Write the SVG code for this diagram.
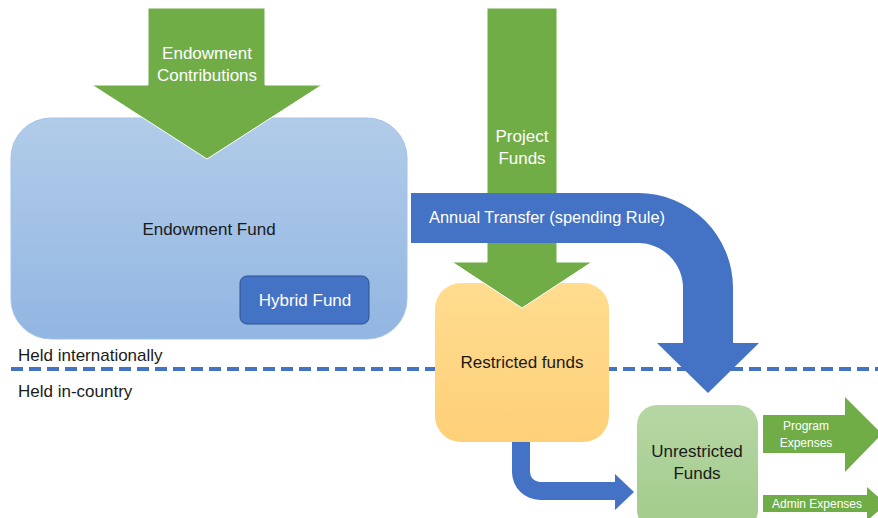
<svg xmlns="http://www.w3.org/2000/svg" width="878" height="518" viewBox="0 0 878 518">
<defs>
<linearGradient id="gBlue" x1="0" y1="0" x2="0" y2="1"><stop offset="0" stop-color="#b1cce9"/><stop offset="1" stop-color="#92b6e2"/></linearGradient>
<linearGradient id="gYel" x1="0" y1="0" x2="0" y2="1"><stop offset="0" stop-color="#ffdc8f"/><stop offset="1" stop-color="#fed079"/></linearGradient>
<linearGradient id="gGrn" x1="0" y1="0" x2="0" y2="1"><stop offset="0" stop-color="#b6d7a4"/><stop offset="1" stop-color="#a2cb8a"/></linearGradient>
</defs>
<style>
text{font-family:"Liberation Sans",Arial,sans-serif;font-size:17px;fill:#1a1a1a}
.w{fill:#ffffff}
.c{text-anchor:middle}
.s{font-size:12px}
.green{fill:#70ad47}
.blue{fill:#4472c4}
</style>
<rect width="878" height="518" fill="#ffffff"/>
<line x1="11" y1="369" x2="878" y2="369" stroke="#4472c4" stroke-width="4" stroke-dasharray="12 6"/>
<text x="18" y="361">Held internationally</text>
<text x="18" y="397">Held in-country</text>
<g id="endowment-fund">
<rect x="11" y="118" width="396" height="221" rx="40" fill="url(#gBlue)" stroke="#a5c3e6" stroke-width="1"/>
<text class="c" x="209" y="235">Endowment Fund</text>
</g>
<g id="hybrid-fund">
<rect x="240" y="276" width="129" height="48" rx="7" fill="#4472c4" stroke="#2f528f" stroke-width="1"/>
<text class="c w" x="305" y="306">Hybrid Fund</text>
</g>
<g id="restricted-funds">
<rect x="435" y="283" width="174" height="159" rx="26" fill="url(#gYel)"/>
<text class="c" x="522" y="368">Restricted funds</text>
</g>
<g id="unrestricted-funds">
<rect x="637" y="405" width="121" height="125" rx="20" fill="url(#gGrn)"/>
<text class="c" x="697" y="457">Unrestricted</text>
<text class="c" x="697" y="479">Funds</text>
</g>
<g id="connectors">
<g id="endowment-contributions">
<path class="green" d="M148,8 H265 V85 H322 L207,159 L92,85 H148 Z" stroke="#ffffff" stroke-width="1"/>
<text class="c w" x="207" y="59">Endowment</text>
<text class="c w" x="207" y="81">Contributions</text>
</g>
<g id="project-funds">
<path class="green" d="M487,8 H557 V262 H592 L522,308 L452,262 H487 Z" stroke="#ffffff" stroke-width="1"/>
<text class="c w" x="522" y="142">Project</text>
<text class="c w" x="522" y="164">Funds</text>
</g>
<g id="annual-transfer">
<path class="blue" d="M411,193 H638 A95,95 0 0 1 733,288 V343 H759 L708,393 L657,343 H683 V288 A45,45 0 0 0 638,243 H411 Z"/>
<text class="w" x="429" y="223" style="font-size:16.4px">Annual Transfer (spending Rule)</text>
</g>
<g id="restricted-to-unrestricted">
<path class="blue" d="M512,442 H530 V472 A10,10 0 0 0 540,482 H615 V474 L634,492 L615,510 V500 H540 A28,28 0 0 1 512,472 Z"/>
</g>
<g id="program-expenses">
<path class="green" d="M763,415 H845 V397 L882,434 L845,472 V453 H763 Z"/>
<text class="c w s" x="806" y="430">Program</text>
<text class="c w s" x="806" y="447">Expenses</text>
</g>
<g id="admin-expenses">
<path class="green" d="M763,495 H867 V487 L886,504 L867,521 V512 H763 Z"/>
<text class="c w s" x="817" y="508">Admin Expenses</text>
</g>
</g>
</svg>
